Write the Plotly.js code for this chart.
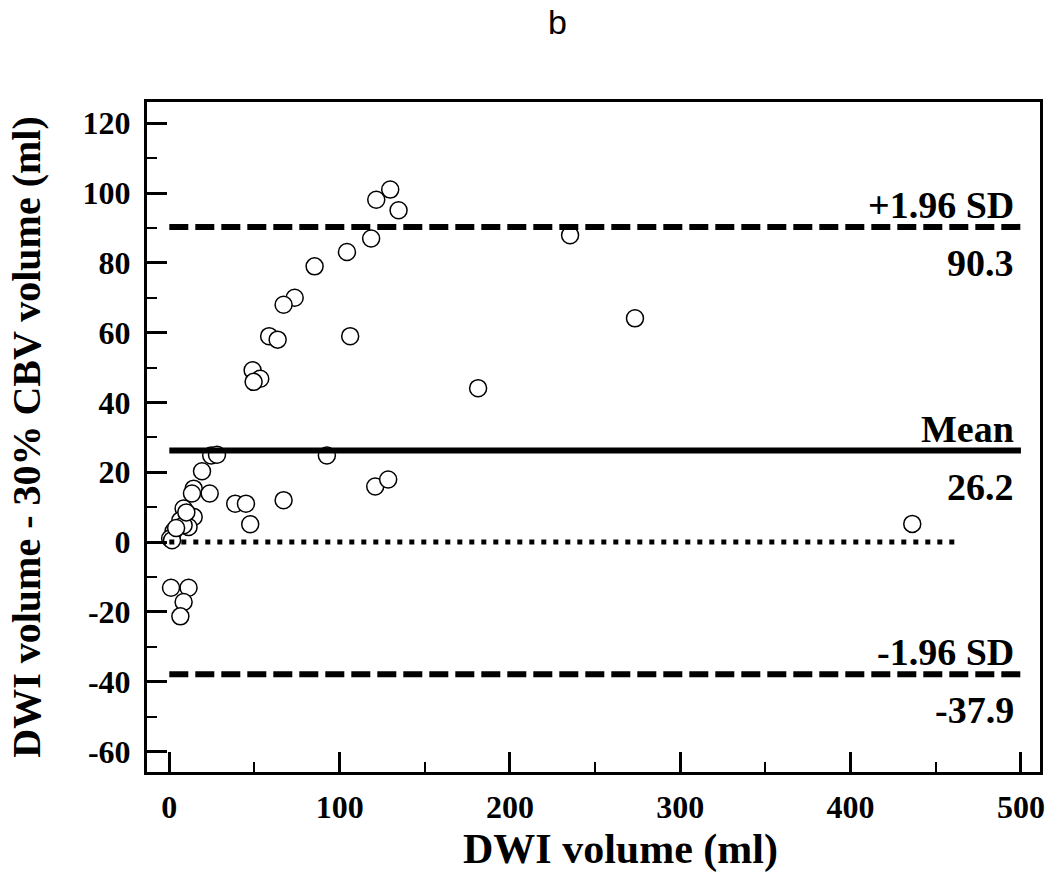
<!DOCTYPE html>
<html>
<head>
<meta charset="utf-8">
<script src="https://cdn.plot.ly/plotly-3.0.1.min.js"></script>
<style>html,body{margin:0;padding:0;background:#fff}#chart{width:1050px;height:880px}</style>
</head>
<body>
<div id="chart"></div>
<script>
// DWI volume (x) vs. difference DWI - 30% CBV volume (y)
const dwiVolume = [129.7, 121.5, 134.6, 118.5, 104.3, 85.3, 73.6, 67.1, 58.6, 63.6, 106.2, 48.9, 53.4, 49.5,
  181.3, 235.3, 273.4, 92.5, 120.9, 128.5, 436.2,
  24.6, 28.0, 19.2, 14.3, 13.3, 23.7, 38.7, 45.0, 67.1, 47.5, 8.4, 14.3, 6.5, 11.3, 2.5, 0.5, 1.6, 8.4, 4.0, 10.0,
  1.0, 11.3, 8.4, 6.5];
const volumeDiff = [101.0, 98.1, 95.1, 87.0, 83.1, 79.0, 70.0, 68.0, 59.0, 58.0, 59.0, 49.2, 46.8, 45.9,
  44.1, 87.9, 64.1, 24.8, 15.9, 17.9, 5.2,
  24.8, 25.0, 20.3, 15.3, 13.9, 13.9, 11.0, 11.0, 12.0, 5.1, 9.6, 7.2, 6.2, 4.3, 3.1, 1.0, 0.5, 4.8, 4.0, 8.5,
  -13.1, -13.1, -17.2, -21.3];

const meanDiff = 26.2;
const upperLimit = 90.3;
const lowerLimit = -37.9;
const zeroLine = 0;
const limitLineX = [0, 500];
const zeroLineX = [0, 463];

const limitNames = ['+1.96 SD', 'Mean', '-1.96 SD'];
const limitValues = [upperLimit, meanDiff, lowerLimit];
const limitValueLabels = ['90.3', '26.2', '-37.9'];

const xTicks = [0, 100, 200, 300, 400, 500];
const yTicks = [-60, -40, -20, 0, 20, 40, 60, 80, 100, 120];
const xTitle = 'DWI volume (ml)';
const yTitle = 'DWI volume - 30% CBV volume (ml)';

const serif = 'Liberation Serif, Times New Roman, serif';
const tickFont = {family: serif, size: 32, color: '#000', weight: 'bold'};
const titleFont = {family: serif, size: 40, color: '#000', weight: 'bold'};
const xTitleFont = {family: serif, size: 42, color: '#000', weight: 'bold'};
const labelFont = {family: serif, size: 38, color: '#000', weight: 'bold'};

const traces = [
  {
    x: dwiVolume, y: volumeDiff, type: 'scatter', mode: 'markers',
    marker: {symbol: 'circle', size: 17, color: '#fff', line: {color: '#000', width: 1.5}},
    hoverinfo: 'x+y', showlegend: false
  },
  {
    x: zeroLineX, y: zeroLineX.map(() => zeroLine), type: 'scatter', mode: 'lines',
    line: {color: '#000', width: 5, dash: '5px,7px'}, showlegend: false, hoverinfo: 'skip'
  },
  {
    x: limitLineX, y: limitLineX.map(() => upperLimit), type: 'scatter', mode: 'lines',
    line: {color: '#000', width: 6, dash: '19px,7px'}, showlegend: false, hoverinfo: 'skip'
  },
  {
    x: limitLineX, y: limitLineX.map(() => meanDiff), type: 'scatter', mode: 'lines',
    line: {color: '#000', width: 6}, showlegend: false, hoverinfo: 'skip'
  },
  {
    x: limitLineX, y: limitLineX.map(() => lowerLimit), type: 'scatter', mode: 'lines',
    line: {color: '#000', width: 6, dash: '19px,7px'}, showlegend: false, hoverinfo: 'skip'
  }
];

const annotations = [];
limitNames.forEach((name, i) => {
  annotations.push({
    x: 500, y: limitValues[i], xref: 'x', yref: 'y', text: name, showarrow: false,
    xanchor: 'right', yanchor: 'middle', xshift: -5, yshift: 22, font: labelFont
  });
  annotations.push({
    x: 500, y: limitValues[i], xref: 'x', yref: 'y', text: limitValueLabels[i], showarrow: false,
    xanchor: 'right', yanchor: 'middle', xshift: -5, yshift: -36, font: labelFont
  });
});
// x-axis title, placed off-centre like the reference
annotations.push({
  x: 0.53, y: -0.078, xref: 'paper', yref: 'paper', text: xTitle, showarrow: false,
  xanchor: 'center', yanchor: 'top', font: xTitleFont
});

const layout = {
  width: 1050, height: 880,
  margin: {l: 147, r: 10, t: 102, b: 108},
  paper_bgcolor: '#fff', plot_bgcolor: '#fff',
  title: {
    text: 'b', x: 0.531, xanchor: 'center', y: 0.975, yanchor: 'middle', yref: 'container',
    font: {family: 'Liberation Sans Narrow, Liberation Sans, Arial, sans-serif', size: 34, color: '#000'}
  },
  xaxis: {
    range: [-13.1, 511.2], tickvals: xTicks, ticktext: xTicks.map(String),
    ticks: 'inside', ticklen: 20, tickwidth: 3, tickcolor: '#000',
    minor: {ticks: 'inside', ticklen: 10, tickwidth: 2, tickcolor: '#000', dtick: 50, showgrid: false},
    showline: true, linewidth: 3, linecolor: '#000', mirror: true,
    showgrid: false, zeroline: false, ticklabelstandoff: 5,
    tickfont: tickFont
  },
  yaxis: {
    range: [-65.9, 126.1], tickvals: yTicks, ticktext: yTicks.map(String),
    ticks: 'inside', ticklen: 20, tickwidth: 3, tickcolor: '#000',
    minor: {ticks: 'inside', ticklen: 10, tickwidth: 2, tickcolor: '#000', dtick: 10, showgrid: false},
    showline: true, linewidth: 3, linecolor: '#000', mirror: true,
    showgrid: false, zeroline: false, ticklabelstandoff: 7,
    tickfont: tickFont,
    title: {text: yTitle, font: titleFont, standoff: 30}
  },
  annotations: annotations,
  showlegend: false
};

Plotly.newPlot('chart', traces, layout, {displayModeBar: false, staticPlot: true});
</script>
</body>
</html>
